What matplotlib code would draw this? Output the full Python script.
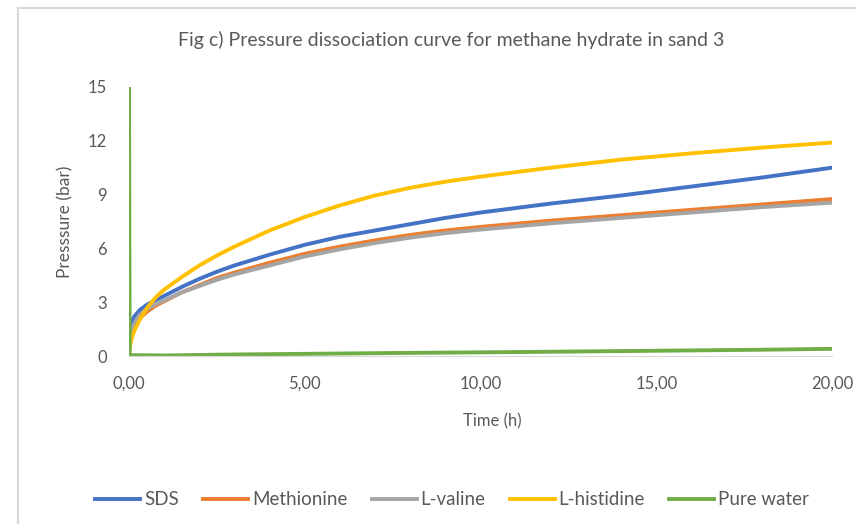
import numpy as np
import matplotlib
matplotlib.use("Agg")
import matplotlib.pyplot as plt
from matplotlib.lines import Line2D

plt.rcParams['font.family'] = ['Lato', 'DejaVu Sans']

time_h = [0.0, 0.05, 0.15, 0.3, 0.5, 0.75, 1.0, 1.5, 2.0, 2.5, 3.0, 4.0, 5.0,
          6.0, 7.0, 8.0, 9.0, 10.0, 12.0, 14.0, 16.0, 18.0, 20.0]

sds = [0.5, 1.8, 2.2, 2.55, 2.85, 3.1, 3.35, 3.85, 4.3, 4.7, 5.05, 5.65, 6.2,
       6.65, 7.0, 7.35, 7.7, 8.0, 8.5, 8.95, 9.45, 9.95, 10.5]
methionine = [0.2, 0.9, 1.5, 2.1, 2.45, 2.8, 3.05, 3.55, 3.95, 4.35, 4.65, 5.2, 5.7,
              6.1, 6.45, 6.75, 7.0, 7.2, 7.55, 7.85, 8.15, 8.45, 8.75]
l_valine = [0.3, 1.2, 1.8, 2.3, 2.6, 2.9, 3.1, 3.55, 3.9, 4.25, 4.55, 5.05, 5.55,
            5.95, 6.3, 6.6, 6.85, 7.05, 7.4, 7.7, 8.0, 8.3, 8.55]
l_histidine = [0.2, 0.8, 1.4, 2.0, 2.65, 3.25, 3.7, 4.4, 5.05, 5.6, 6.1, 7.0, 7.75,
               8.4, 8.95, 9.38, 9.72, 10.0, 10.5, 10.95, 11.3, 11.62, 11.9]

water_time = [0.0, 0.02, 1.0, 2.8, 5.0, 7.7, 11.0, 14.3, 18.0, 20.0]
pure_water = [15.0, 0.05, 0.03, 0.08, 0.12, 0.17, 0.22, 0.28, 0.35, 0.4]

series = [
    ("SDS", time_h, sds, "#4472C4"),
    ("Methionine", time_h, methionine, "#ED7D31"),
    ("L-valine", time_h, l_valine, "#A5A5A5"),
    ("L-histidine", time_h, l_histidine, "#FFC000"),
    ("Pure water", water_time, pure_water, "#70AD47"),
]

txt = "#595959"

fig = plt.figure(figsize=(8.56, 5.24), dpi=100)
ax = fig.add_axes([0.1507, 0.3206, 0.8213, 0.5134])

for name, x, y, c in series:
    ax.plot(x, y, color=c, lw=2.8, label=name, solid_joinstyle="round")

ax.set_xlim(0, 20)
ax.set_ylim(0, 15)
ax.set_xticks(np.arange(0, 21, 5))
ax.set_xticklabels([f"{v:.2f}".replace(".", ",") for v in np.arange(0, 21, 5)])
ax.set_yticks(np.arange(0, 16, 3))
ax.tick_params(length=0, colors=txt, labelsize=12)
ax.tick_params(axis="y", pad=16)
ax.tick_params(axis="x", pad=14)
for s in ["top", "right", "left"]:
    ax.spines[s].set_visible(False)
ax.spines["bottom"].set_color("#D9D9D9")

fig.text(0.527, 0.924, "Fig c) Pressure dissociation curve for methane hydrate in sand 3",
         ha="center", va="center", fontsize=14, color=txt)
fig.text(0.575, 0.195, "Time (h)", ha="center", va="center", fontsize=12, color=txt)
fig.text(0.076, 0.576, "Presssure (bar)", ha="center", va="center", rotation=90,
         fontsize=12.5, color=txt)

handles, labels = ax.get_legend_handles_labels()
fig.legend(handles, labels, loc="center", bbox_to_anchor=(0.528, 0.046), ncol=5,
           frameon=False, fontsize=13.5, labelcolor=txt, handlelength=2.4,
           handletextpad=0.2, columnspacing=1.3)

# outer chart border (only top and left visible)
fig.add_artist(Line2D([0.021, 0.021], [0, 0.985], transform=fig.transFigure, color="#D9D9D9", lw=1.5))
fig.add_artist(Line2D([0.021, 1.0], [0.985, 0.985], transform=fig.transFigure, color="#D9D9D9", lw=1.5))

fig.savefig("out.png", dpi=100, facecolor="white")
